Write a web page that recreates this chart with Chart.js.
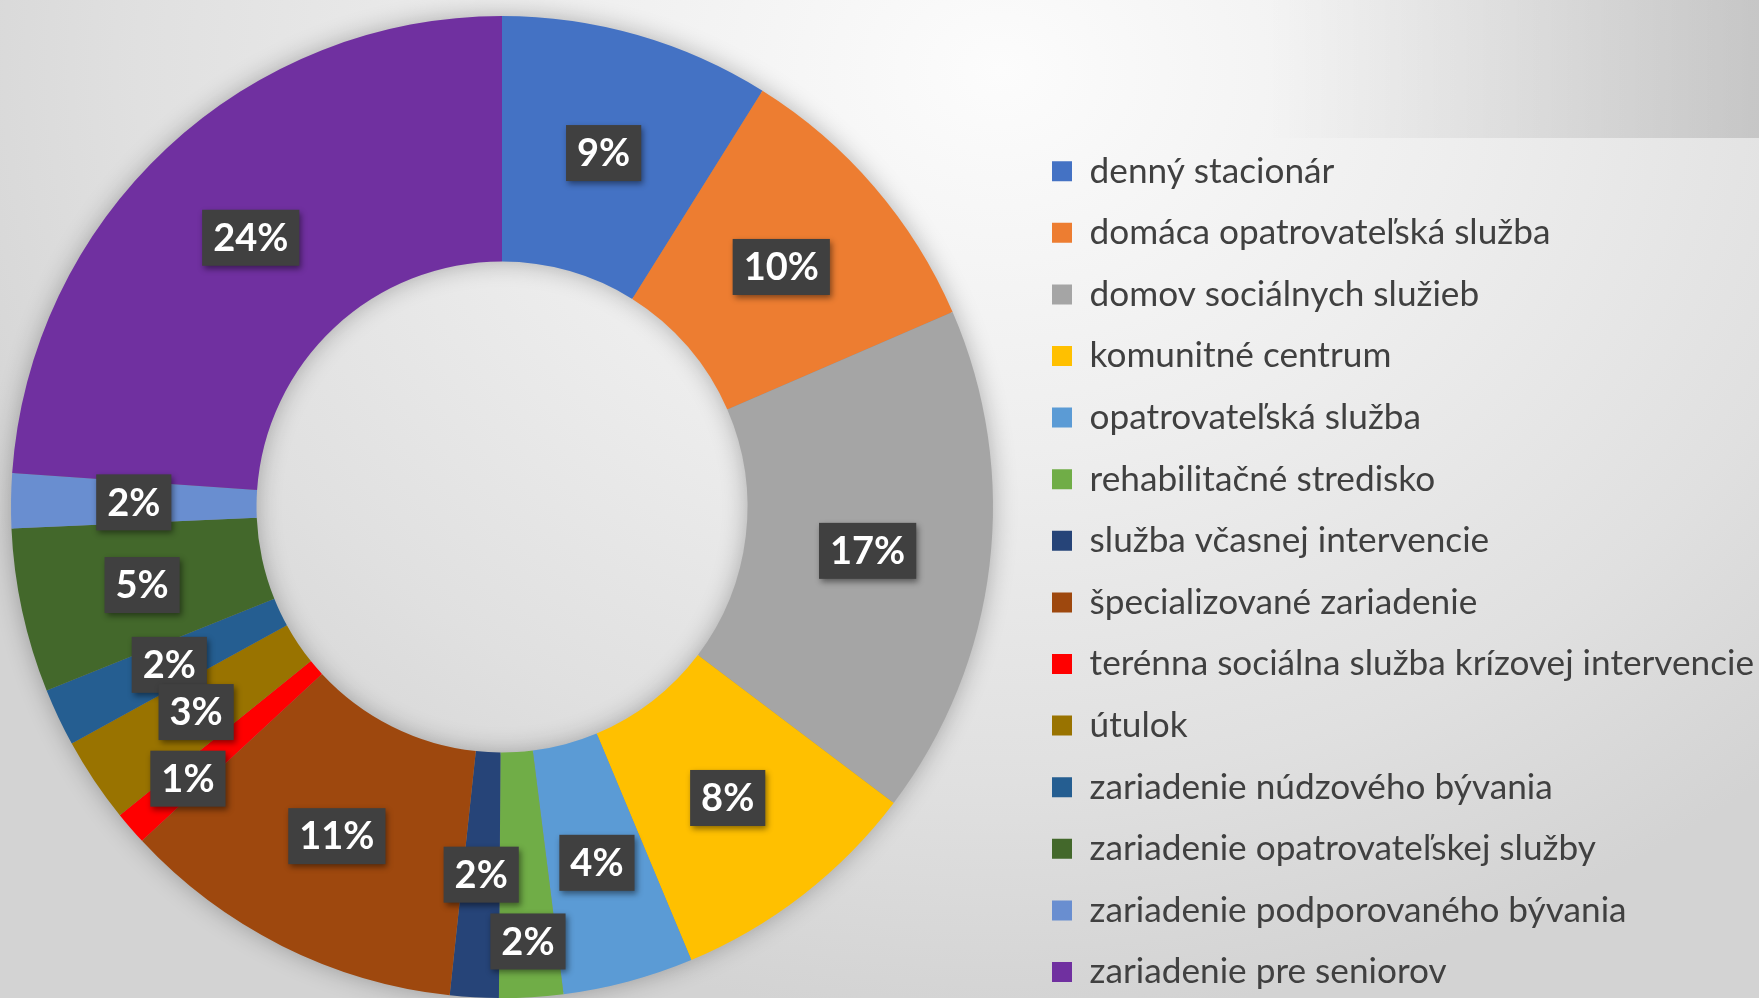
<!DOCTYPE html>
<html lang="sk">
<head>
<meta charset="utf-8">
<title>Druhy sociálnych služieb</title>
<script src="https://cdn.jsdelivr.net/npm/chart.js@4.4.1/dist/chart.umd.min.js"></script>
<style>
  html, body { margin: 0; padding: 0; }
  body {
    width: 1759px;
    height: 998px;
    overflow: hidden;
    position: relative;
    background: radial-gradient(ellipse 1150px 950px at 1000px 70px, #fcfcfc 0%, #eeeeee 40%, #e0e0e0 75%, #d3d3d3 100%);
  }
  #band {
    position: absolute;
    left: 1000px;
    top: 0;
    width: 759px;
    height: 138px;
    background: linear-gradient(to right, rgba(0, 0, 0, 0) 35%, rgba(0, 0, 0, 0.13) 100%);
  }
  /* canvas is a bit larger than the page so the ring can sit close to the left edge */
  #chart { position: absolute; left: -40px; top: -20px; }
</style>
</head>
<body>
<div id="band"></div>
<canvas id="chart" width="1839" height="1038"></canvas>
<script>
const categories = [
  'denný stacionár',
  'domáca opatrovateľská služba',
  'domov sociálnych služieb',
  'komunitné centrum',
  'opatrovateľská služba',
  'rehabilitačné stredisko',
  'služba včasnej intervencie',
  'špecializované zariadenie',
  'terénna sociálna služba krízovej intervencie',
  'útulok',
  'zariadenie núdzového bývania',
  'zariadenie opatrovateľskej služby',
  'zariadenie podporovaného bývania',
  'zariadenie pre seniorov'
];

// shares in percent
const shares = [8.9, 9.6, 16.8, 8.4, 4.3, 2.1, 1.6, 11.4, 1.1, 2.8, 1.9, 5.4, 1.8, 23.9];

const sliceColors = [
  '#4472C4', '#ED7D31', '#A5A5A5', '#FFC000', '#5B9BD5', '#70AD47', '#264478',
  '#9E480E', '#FF0000', '#997300', '#255E91', '#43682B', '#698ED0', '#7030A0'
];

// page offset of the canvas
const offX = 40;
const offY = 20;
const canvasW = 1839;
const canvasH = 1038;

// legend layout
const legendSize = 35.2;
const legendGap = 61.6 - legendSize;
const measure = document.createElement('canvas').getContext('2d');
measure.font = legendSize + 'px Lato';
const longest = Math.max(...categories.map(c => measure.measureText(c).width));
const legendWidth = legendGap + 20 + legendSize / 2 + longest + 10;
const legendLeft = 1052 - legendGap + offX;
const legendBottom = 1016 + offY;
const ringX = 502 + offX;
const ringY = 507 + offY;

// soft shadow under the ring, also gives the hole its inner shading
const ringShadow = {
  id: 'ringShadow',
  beforeDatasetsDraw(chart) {
    const arc = chart.getDatasetMeta(0).data[0];
    if (!arc) return;
    const p = arc.getProps(['x', 'y', 'innerRadius', 'outerRadius'], true);
    const ctx = chart.ctx;
    ctx.save();
    ctx.shadowColor = 'rgba(0, 0, 0, 0.32)';
    ctx.shadowBlur = 26;
    ctx.fillStyle = '#8a8a8a';
    ctx.beginPath();
    ctx.arc(p.x, p.y, p.outerRadius - 2, 0, Math.PI * 2);
    ctx.arc(p.x, p.y, p.innerRadius + 2, 0, Math.PI * 2, true);
    ctx.fill();
    ctx.restore();
  }
};

// dark boxed percentage labels, moved outward when they collide
const percentLabels = {
  id: 'percentLabels',
  afterDatasetsDraw(chart) {
    const meta = chart.getDatasetMeta(0);
    const ctx = chart.ctx;
    const total = shares.reduce((a, b) => a + b, 0);
    ctx.save();
    ctx.font = 'bold 38px Lato';
    const overlap = (a, b) => Math.min(
      (a.w + b.w) / 2 - Math.abs(a.cx - b.cx),
      (a.h + b.h) / 2 - Math.abs(a.cy - b.cy)
    );
    const placed = [];
    for (let i = meta.data.length - 1; i >= 0; i--) {
      const p = meta.data[i].getProps(['x', 'y', 'startAngle', 'endAngle', 'innerRadius', 'outerRadius'], true);
      const angle = (p.startAngle + p.endAngle) / 2;
      const text = Math.round(shares[i] / total * 100) + '%';
      const w = ctx.measureText(text).width + 22;
      const h = 56;
      let r = (p.innerRadius + p.outerRadius) / 2;
      const at = rr => ({ cx: p.x + Math.cos(angle) * rr, cy: p.y + Math.sin(angle) * rr, w, h, text });
      let box = at(r);
      if (placed.some(b => overlap(b, box) > 12)) {
        while (placed.some(b => overlap(b, box) > -10) && r < p.outerRadius + 60) {
          r += 1;
          box = at(r);
        }
      }
      placed.push(box);
    }
    ctx.textAlign = 'center';
    ctx.textBaseline = 'middle';
    placed.forEach(b => {
      ctx.shadowColor = 'rgba(0, 0, 0, 0.45)';
      ctx.shadowBlur = 6;
      ctx.shadowOffsetX = 2;
      ctx.shadowOffsetY = 3;
      ctx.fillStyle = '#404040';
      ctx.fillRect(b.cx - b.w / 2, b.cy - b.h / 2, b.w, b.h);
      ctx.shadowColor = 'transparent';
      ctx.fillStyle = '#ffffff';
      ctx.fillText(b.text, b.cx, b.cy + 1);
    });
    ctx.restore();
  }
};

new Chart(document.getElementById('chart'), {
  type: 'doughnut',
  data: {
    labels: categories,
    datasets: [{
      data: shares,
      backgroundColor: sliceColors,
      borderWidth: 0
    }]
  },
  options: {
    responsive: false,
    animation: false,
    radius: 491,
    cutout: '50%',
    layout: {
      padding: {
        left: 2 * ringX - legendLeft,
        right: canvasW - legendLeft - legendWidth,
        top: 2 * ringY - legendBottom,
        bottom: canvasH - legendBottom
      }
    },
    plugins: {
      tooltip: { enabled: false },
      legend: {
        position: 'right',
        align: 'end',
        labels: {
          boxWidth: 20,
          boxHeight: 20,
          padding: legendGap,
          color: '#404040',
          font: { family: 'Lato', size: legendSize }
        }
      }
    }
  },
  plugins: [ringShadow, percentLabels]
});
</script>
</body>
</html>
